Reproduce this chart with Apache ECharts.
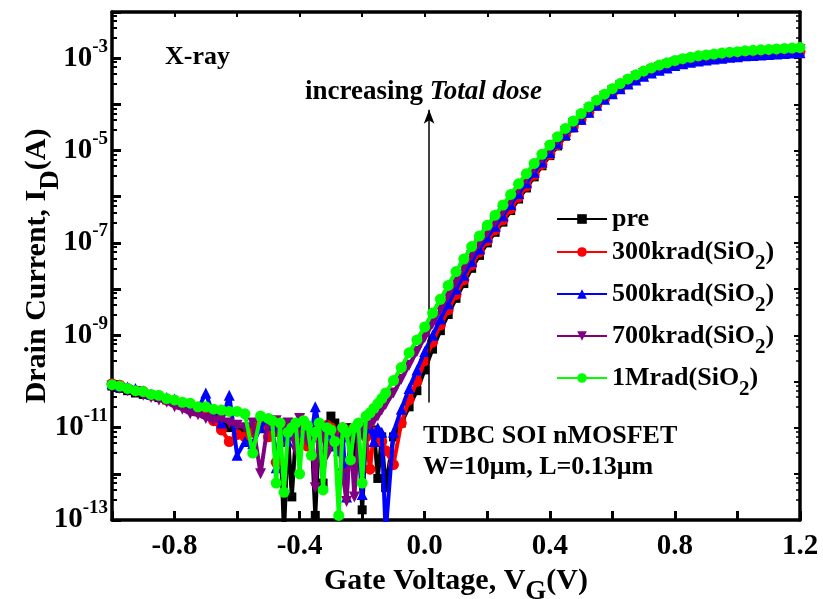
<!DOCTYPE html>
<html>
<head>
<meta charset="utf-8">
<title>Id-Vg</title>
<script src="https://cdn.jsdelivr.net/npm/echarts@6/dist/echarts.min.js"></script>
<style>
  html, body { margin: 0; padding: 0; background: #fff; }
</style>
</head>
<body>
<div id="main" style="width: 823px; height: 599px;"></div>
<script type="text/javascript">
// gate voltage (V); finer steps through the noisy off-state region
var gateVoltage = [-1, -0.975, -0.95, -0.925, -0.9, -0.875, -0.85, -0.825, -0.8, -0.775, -0.75, -0.725, -0.7, -0.675, -0.65, -0.625, -0.6, -0.575, -0.55, -0.525,
  -0.5, -0.4875, -0.475, -0.4625, -0.45, -0.4375, -0.425, -0.4125, -0.4, -0.3875, -0.375, -0.3625, -0.35, -0.3375, -0.325, -0.3125,
  -0.3, -0.2875, -0.275, -0.2625, -0.25, -0.2375, -0.225, -0.2125, -0.2, -0.1875, -0.175, -0.1625, -0.15, -0.1375, -0.125,
  -0.1, -0.075, -0.05, -0.025,
  0, 0.025, 0.05, 0.075, 0.1, 0.125, 0.15, 0.175, 0.2, 0.225, 0.25, 0.275, 0.3, 0.325, 0.35, 0.375, 0.4, 0.425, 0.45, 0.475,
  0.5, 0.525, 0.55, 0.575, 0.6, 0.625, 0.65, 0.675, 0.7, 0.725, 0.75, 0.775, 0.8, 0.825, 0.85, 0.875, 0.9, 0.925, 0.95, 0.975,
  1, 1.025, 1.05, 1.075, 1.1, 1.125, 1.15, 1.175, 1.2];

// drain current, stored as log10(ID / A)
var logIdPre = [-10.1, -10.15, -10.2, -10.25, -10.28, -10.3, -10.35, -10.4, -10.45, -10.5, -10.55, -10.62, -10.7, -10.8, -10.9, -11.0, -11.1, -11.05, -11.0, -10.95,
  -11.0, -11.05, -11.1, -11.0, -13.3, -11.1, -12.5, -11.2, -11.3, -11.1, -11.0, -11.05, -12.9, -11.1, -12.2, -11.0,
  -10.75, -10.9, -11.3, -11.1, -11.0, -11.2, -11.6, -11.0, -12.78, -11.1, -11.1, -11.05, -12.1, -11.2, -12.3,
  -11.2, -10.9, -10.55, -10.2,
  -9.75, -9.3, -8.9, -8.55, -8.2, -7.88, -7.55, -7.27, -7.0, -6.77, -6.55, -6.3, -6.05, -5.81, -5.57, -5.33,
  -5.11, -4.9, -4.69, -4.51, -4.34, -4.18, -4.03, -3.89, -3.77, -3.65, -3.55, -3.46, -3.38, -3.31, -3.25, -3.19, -3.14, -3.1, -3.07, -3.04,
  -3.02, -3.0, -2.98, -2.96, -2.95, -2.93, -2.92, -2.91, -2.9, -2.89, -2.88, -2.87, -2.86];
var logId300k = [-10.05, -10.08, -10.15, -10.2, -10.22, -10.3, -10.32, -10.4, -10.42, -10.48, -10.55, -10.65, -10.7, -10.85, -11.05, -11.3, -11.15, -11.2, -11.1, -10.95,
  -11.2, -11.0, -11.75, -11.1, -11.3, -10.95, -11.0, -11.2, -11.1, -11.0, -11.4, -11.05, -11.0, -11.1, -11.2, -10.95,
  -11.0, -11.2, -11.1, -11.0, -11.2, -11.05, -11.1, -11.0, -11.1, -11.2, -11.9, -11.1, -11.2, -11.3, -11.5,
  -11.8, -10.9, -10.4, -10.0,
  -9.55, -9.15, -8.78, -8.45, -8.12, -7.8, -7.48, -7.2, -6.95, -6.72, -6.5, -6.26, -6.01, -5.77, -5.53, -5.3,
  -5.08, -4.87, -4.67, -4.49, -4.33, -4.17, -4.02, -3.88, -3.76, -3.64, -3.54, -3.45, -3.37, -3.3, -3.24, -3.18, -3.13, -3.09, -3.06, -3.03,
  -3.01, -2.99, -2.97, -2.95, -2.94, -2.92, -2.91, -2.9, -2.89, -2.88, -2.87, -2.86, -2.85];
var logId500k = [-10.05, -10.1, -10.12, -10.15, -10.2, -10.27, -10.3, -10.35, -10.38, -10.45, -10.5, -10.6, -10.25, -10.75, -10.9, -10.3, -11.6, -11.3, -11.35, -11.0,
  -10.8, -10.95, -11.87, -11.0, -11.2, -11.3, -11.1, -10.9, -10.9, -11.1, -11.0, -11.2, -10.55, -11.0, -11.1, -10.95,
  -11.3, -11.4, -11.5, -11.1, -12.5, -11.2, -11.0, -11.1, -12.45, -11.0, -11.0, -11.3, -11.0, -11.1, -13.3,
  -11.1, -10.6, -10.15, -9.75,
  -9.35, -9.0, -8.65, -8.32, -8.0, -7.7, -7.4, -7.13, -6.88, -6.64, -6.41, -6.17, -5.93, -5.7, -5.47, -5.25,
  -5.04, -4.84, -4.65, -4.48, -4.32, -4.17, -4.02, -3.89, -3.77, -3.66, -3.56, -3.47, -3.39, -3.32, -3.26, -3.21, -3.16, -3.12, -3.09, -3.06,
  -3.04, -3.02, -3.0, -2.98, -2.97, -2.95, -2.94, -2.93, -2.92, -2.91, -2.9, -2.89, -2.88];
var logId700k = [-10.1, -10.15, -10.2, -10.22, -10.3, -10.35, -10.4, -10.45, -10.55, -10.6, -10.7, -10.72, -10.8, -10.85, -10.8, -10.9, -10.95, -11.0, -10.9, -12.0,
  -10.85, -11.0, -10.85, -11.2, -11.0, -10.9, -11.1, -11.5, -10.8, -11.0, -11.3, -11.1, -12.3, -11.0, -11.2, -11.6,
  -11.4, -11.1, -11.3, -12.0, -12.6, -11.1, -12.5, -11.2, -11.0, -11.0, -10.95, -10.85, -10.75, -10.62, -10.5,
  -10.25, -9.95, -9.65, -9.35,
  -9.05, -8.75, -8.45, -8.15, -7.85, -7.55, -7.27, -7.02, -6.78, -6.55, -6.32, -6.08, -5.84, -5.61, -5.38, -5.17,
  -4.96, -4.77, -4.59, -4.42, -4.26, -4.11, -3.96, -3.83, -3.71, -3.6, -3.5, -3.41, -3.33, -3.26, -3.2, -3.15, -3.1, -3.06, -3.03, -3.0,
  -2.98, -2.96, -2.94, -2.92, -2.91, -2.89, -2.88, -2.87, -2.86, -2.85, -2.84, -2.83, -2.82];
var logId1M = [-10.07, -10.1, -10.15, -10.2, -10.22, -10.28, -10.3, -10.37, -10.4, -10.45, -10.47, -10.55, -10.55, -10.6, -10.62, -10.65, -10.65, -10.7, -11.55, -10.75,
  -10.8, -10.85, -12.2, -10.9, -12.4, -11.1, -11.0, -10.9, -12.0, -10.85, -10.95, -11.6, -11.1, -10.9, -12.35, -11.0,
  -11.05, -11.3, -12.9, -11.0, -11.1, -11.7, -11.0, -10.9, -12.2, -10.75, -10.68, -10.58, -10.48, -10.37, -10.25,
  -9.98, -9.7, -9.38, -9.1,
  -8.82, -8.52, -8.22, -7.92, -7.62, -7.35, -7.08, -6.85, -6.62, -6.4, -6.18, -5.95, -5.72, -5.5, -5.28, -5.08,
  -4.88, -4.7, -4.52, -4.36, -4.2, -4.05, -3.91, -3.78, -3.66, -3.55, -3.45, -3.36, -3.28, -3.21, -3.15, -3.1, -3.05, -3.01, -2.98, -2.95,
  -2.93, -2.91, -2.89, -2.87, -2.86, -2.84, -2.83, -2.82, -2.81, -2.8, -2.79, -2.78, -2.77];

var seriesNames = ['pre', '300krad(SiO2)', '500krad(SiO2)', '700krad(SiO2)', '1Mrad(SiO2)'];
var seriesColors = ['#000000', '#ff0000', '#0000ff', '#800080', '#00ff00'];
var seriesSymbols = ['rect', 'circle', 'triangle', 'triangle', 'circle'];
var seriesLogs = [logIdPre, logId300k, logId500k, logId700k, logId1M];

// arrow "increasing Total dose": V, ID at bottom, ID at tip
var arrowV = 0.014;
var arrowFrom = 3.5e-11;
var arrowTo = 7.6e-5;

var FONT = '"Liberation Serif", "Times New Roman", serif';

var myCharts = echarts.init(document.getElementById('main'));

function pairs(logs) {
  var out = [];
  for (var i = 0; i < gateVoltage.length; i++) {
    out.push([gateVoltage[i], Math.pow(10, logs[i])]);
  }
  return out;
}

var series = [];
for (var k = 0; k < seriesNames.length; k++) {
  series.push({
    name: seriesNames[k],
    type: 'line',
    data: pairs(seriesLogs[k]),
    symbol: seriesSymbols[k],
    symbolSize: k === 0 ? 9 : 11,
    symbolRotate: k === 3 ? 180 : 0,
    showAllSymbol: true,
    color: seriesColors[k],
    lineStyle: { width: 4, color: seriesColors[k] },
    itemStyle: { color: seriesColors[k] },
    emphasis: { disabled: true },
    z: 2 + k
  });
}
// arrow drawn in data space
series[4].markLine = {
  silent: true,
  symbol: ['none', 'arrow'],
  symbolSize: [8, 14],
  label: { show: false },
  lineStyle: { color: '#000', width: 1.5, type: 'solid' },
  data: [[{ coord: [arrowV, arrowFrom] }, { coord: [arrowV, arrowTo] }]]
};

var legendRich = {
  a: { fontFamily: FONT, fontWeight: 'bold', fontSize: 26, color: '#000', lineHeight: 32 },
  s: { fontFamily: FONT, fontWeight: 'bold', fontSize: 21, color: '#000', lineHeight: 32, verticalAlign: 'bottom', padding: [0, 0, -6, 0] }
};

var option = {
  animation: false,
  backgroundColor: '#fff',
  grid: { left: 112, top: 12, width: 688, height: 508, outerBoundsMode: 'none', containLabel: false },
  legend: {
    orient: 'vertical',
    left: 551,
    top: 201,
    itemWidth: 50,
    itemHeight: 12,
    itemGap: 7,
    data: seriesNames,
    formatter: function (name) {
      if (name.indexOf('SiO2') >= 0) {
        return '{a|' + name.replace('SiO2)', 'SiO') + '}{s|2}{a|)}';
      }
      return '{a|' + name + '}';
    },
    textStyle: { rich: legendRich }
  },
  xAxis: [{
    type: 'value',
    min: -1.0,
    max: 1.2,
    interval: 0.2,
    position: 'bottom',
    axisLine: { onZero: false, lineStyle: { color: '#000', width: 3.5 } },
    axisTick: { inside: true, length: 9, lineStyle: { width: 3, color: '#000' } },
    splitLine: { show: false },
    axisLabel: {
      margin: 12,
      color: '#000',
      fontFamily: FONT,
      fontWeight: 'bold',
      fontSize: 29,
      formatter: function (v) {
        var r = Math.round(v * 10);
        if ((r + 8) % 4 === 0) return v.toFixed(1);
        return '';
      }
    },
    name: '{t|Gate Voltage, V}{d|G}{t|(V)}',
    nameLocation: 'middle',
    nameGap: 33,
    nameTextStyle: {
      rich: {
        t: { fontFamily: FONT, fontWeight: 'bold', fontSize: 30, color: '#000', lineHeight: 34 },
        d: { fontFamily: FONT, fontWeight: 'bold', fontSize: 27, color: '#000', lineHeight: 34, verticalAlign: 'bottom', padding: [0, 0, -8, 0] }
      }
    }
  }, {
    type: 'value',
    min: -1.0,
    max: 1.2,
    interval: 0.2,
    position: 'top',
    axisLine: { onZero: false, lineStyle: { color: '#000', width: 3.5 } },
    axisTick: { inside: true, length: 5, lineStyle: { width: 2, color: '#000' } },
    splitLine: { show: false },
    axisLabel: { show: false }
  }],
  yAxis: [{
    type: 'log',
    logBase: 10,
    min: 1e-13,
    max: 1e-2,
    interval: 1,
    position: 'left',
    axisLine: { onZero: false, lineStyle: { color: '#000', width: 3.5 } },
    axisTick: { inside: true, length: 9, lineStyle: { width: 3, color: '#000' } },
    minorTick: { show: true, splitNumber: 5, length: 5, lineStyle: { width: 2, color: '#000' } },
    splitLine: { show: false },
    axisLabel: {
      margin: 4,
      formatter: function (v) {
        var e = Math.round(Math.log(v) / Math.LN10);
        if (Math.abs(e) % 2 === 1) return '{b|10}{s|' + e + '}';
        return '';
      },
      rich: {
        b: { fontFamily: FONT, fontWeight: 'bold', fontSize: 29, color: '#000', lineHeight: 34 },
        s: { fontFamily: FONT, fontWeight: 'bold', fontSize: 19, color: '#000', lineHeight: 34, verticalAlign: 'top', padding: [-4, 0, 0, 0] }
      }
    },
    name: '{t|Drain Current, I}{d|D}{t|(A)}',
    nameLocation: 'middle',
    nameRotate: 90,
    nameGap: 58,
    nameMoveOverlap: false,
    nameTextStyle: {
      rich: {
        t: { fontFamily: FONT, fontWeight: 'bold', fontSize: 30, color: '#000', lineHeight: 34 },
        d: { fontFamily: FONT, fontWeight: 'bold', fontSize: 27, color: '#000', lineHeight: 34, verticalAlign: 'bottom', padding: [0, 0, -11, 0] }
      }
    }
  }, {
    type: 'log',
    logBase: 10,
    min: 1e-13,
    max: 1e-2,
    interval: 1,
    position: 'right',
    axisLine: { onZero: false, lineStyle: { color: '#000', width: 3.5 } },
    axisTick: { inside: true, length: 6, lineStyle: { width: 2, color: '#000' } },
    minorTick: { show: true, splitNumber: 5, length: 4, lineStyle: { width: 1.5, color: '#000' } },
    splitLine: { show: false },
    axisLabel: { show: false }
  }],
  graphic: [
    { type: 'text', left: 165, top: 44, style: { text: 'X-ray', font: 'bold 26px ' + FONT, fill: '#000' } },
    {
      type: 'text', left: 305, top: 79,
      style: {
        text: '{a|increasing }{b|Total dose}',
        rich: {
          a: { fontFamily: FONT, fontWeight: 'bold', fontSize: 27, color: '#000' },
          b: { fontFamily: FONT, fontWeight: 'bold', fontStyle: 'italic', fontSize: 27, color: '#000' }
        }
      }
    },
    { type: 'text', left: 423, top: 423, style: { text: 'TDBC SOI nMOSFET', font: 'bold 26px ' + FONT, fill: '#000' } },
    { type: 'text', left: 423, top: 454, style: { text: 'W=10\u03bcm, L=0.13\u03bcm', font: 'bold 26px ' + FONT, fill: '#000' } }
  ],
  series: series
};

myCharts.setOption(option);
</script>
</body>
</html>
